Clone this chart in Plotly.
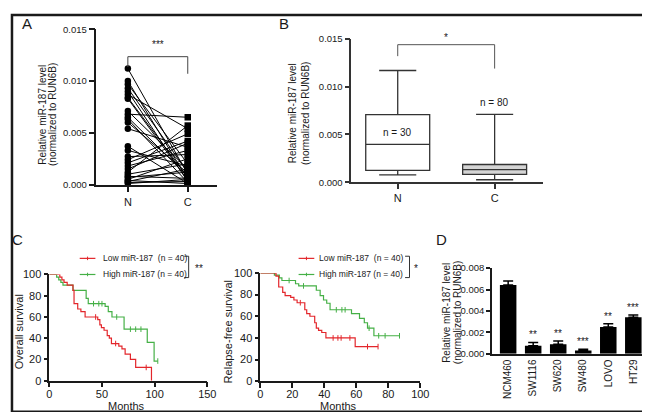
import plotly.graph_objects as go

W, H = 650, 412
FONT = "Liberation Sans, Arial, sans-serif"
INK = "#1a1a1a"
RED = "#e3262b"
GREEN = "#45b046"

# ---------------- Panel A: paired N vs C ----------------
a_groups = ["N", "C"]
a_normal = [0.0112, 0.0100, 0.0097, 0.0093, 0.0090, 0.0087, 0.0084, 0.0083, 0.0071, 0.0068,
            0.0065, 0.0063, 0.0060, 0.0054, 0.0037, 0.0033, 0.0027, 0.0024, 0.0021, 0.0018,
            0.0015, 0.0012, 0.0010, 0.0008, 0.0007, 0.0005, 0.0004, 0.0003, 0.0002, 0.0001]
a_cancer = [0.0010, 0.0005, 0.0020, 0.0012, 0.0003, 0.0054, 0.0007, 0.0004, 0.0015, 0.0065,
            0.0008, 0.0002, 0.0011, 0.0036, 0.0001, 0.0018, 0.0029, 0.0049, 0.0042, 0.0033,
            0.0040, 0.0057, 0.0020, 0.0006, 0.0012, 0.0025, 0.0001, 0.0015, 0.0003, 0.0005]
a_ticks = [0.0, 0.005, 0.010, 0.015]
a_sig = "***"

# ---------------- Panel B: box plots ----------------
b_groups = ["N", "C"]
b_q1 = [0.00125, 0.00083]
b_median = [0.00396, 0.00132]
b_q3 = [0.00707, 0.00186]
b_low = [0.00077, 0.00026]
b_high = [0.01170, 0.00710]
b_n = [30, 80]
b_fill = ["white", "#d4d4d4"]
b_sig = "*"

# ---------------- Panel C: Kaplan-Meier ----------------
os_low_t = [0, 10, 12, 14, 17, 22.5, 23.5, 27, 30, 34, 46, 48, 49.5, 52, 55, 57, 59, 66, 69, 72, 77, 82, 97]
os_low_s = [100, 97.5, 95, 92.5, 90, 85, 72.5, 67.5, 65, 60, 57.5, 52.5, 50, 47.5, 42.5, 40, 35, 32.5, 30, 25, 20, 12.5, 0]
os_low_end = 97
os_low_cens = [44, 63, 92]

os_high_t = [0, 7, 9, 11, 13, 22.5, 35, 37, 53, 56, 59.5, 71, 93, 99.5]
os_high_s = [100, 97.5, 95, 92.5, 90, 85, 77.5, 72.5, 70, 65, 60, 48.5, 36, 18.5]
os_high_end = 103
os_high_cens = [42, 47, 50, 64, 77, 82, 87, 103]

rfs_low_t = [0, 9.8, 11.5, 14, 15.5, 19, 21, 23, 27.8, 29, 31, 34, 35, 36.4, 38.4, 41, 59.3]
rfs_low_s = [100, 97, 87, 82, 79, 77.5, 75, 72.5, 66, 62.5, 60, 54, 49, 47, 45, 40, 32]
rfs_low_end = 73.6
rfs_low_cens = [25, 45.5, 48.5, 50.5, 56, 67, 73.6]

rfs_high_t = [0, 8.8, 11.9, 13.5, 22, 24, 35, 37.4, 39.5, 41.5, 43.6, 57, 62, 65, 67, 71]
rfs_high_s = [100, 98, 95.5, 93, 90, 88, 84, 79, 75, 72, 66, 62.5, 58, 54, 49, 42]
rfs_high_end = 87
rfs_high_cens = [18, 27, 47.5, 51, 53, 68, 74, 78, 87]

legend_labels = ["Low miR-187\u00a0\u00a0(n = 40)", "High miR-187 (n = 40)"]
os_sig, rfs_sig = "**", "*"
os_xticks = [0, 50, 100, 150]
rfs_xticks = [0, 20, 40, 60, 80, 100]
surv_yticks = [0, 20, 40, 60, 80, 100]

# ---------------- Panel D: cell lines ----------------
d_lines = ["NCM460", "SW1116", "SW620", "SW480", "LOVO", "HT29"]
d_values = [0.00643, 0.00075, 0.00090, 0.00030, 0.00250, 0.00341]
d_err = [0.00037, 0.00031, 0.00030, 0.00012, 0.00030, 0.00021]
d_stars = ["", "**", "**", "***", "**", "***"]
d_ticks = [0.0, 0.002, 0.004, 0.006, 0.008]


def dx(a, b):
    return [a / W, b / W]


def dy(top, bottom):
    return [1 - bottom / H, 1 - top / H]


def px(x):
    return x / W


def py(y):
    return 1 - y / H


def surv_at(ts, ss, t):
    v = ss[0]
    for ti, si in zip(ts, ss):
        if ti <= t:
            v = si
    return v


fig = go.Figure()

# ---- A ----
lx, ly = [], []
for n, c in zip(a_normal, a_cancer):
    lx += [0, 1, None]
    ly += [n, c, None]
fig.add_trace(go.Scatter(x=lx, y=ly, mode="lines", line=dict(color="black", width=1),
                         xaxis="x", yaxis="y", cliponaxis=False, showlegend=False))
fig.add_trace(go.Scatter(x=[0] * len(a_normal), y=a_normal, mode="markers",
                         marker=dict(symbol="circle", size=6.5, color="black"),
                         xaxis="x", yaxis="y", cliponaxis=False, showlegend=False))
fig.add_trace(go.Scatter(x=[1] * len(a_cancer), y=a_cancer, mode="markers",
                         marker=dict(symbol="square", size=6.5, color="black"),
                         xaxis="x", yaxis="y", cliponaxis=False, showlegend=False))

# ---- B ----
for i in range(len(b_groups)):
    fig.add_trace(go.Box(x=[i], q1=[b_q1[i]], median=[b_median[i]], q3=[b_q3[i]],
                         lowerfence=[b_low[i]], upperfence=[b_high[i]],
                         width=0.66, whiskerwidth=0.58, fillcolor=b_fill[i],
                         line=dict(color="#333333", width=1.3), boxpoints=False,
                         xaxis="x2", yaxis="y2", showlegend=False, hoverinfo="skip"))


# ---- C ----
def km(ts, ss, end, cens, color, xa, ya):
    fig.add_trace(go.Scatter(x=ts + [end], y=ss + [ss[-1]], mode="lines",
                             line=dict(color=color, width=1.2, shape="hv"),
                             xaxis=xa, yaxis=ya, cliponaxis=False, showlegend=False))
    fig.add_trace(go.Scatter(x=cens, y=[surv_at(ts, ss, c) for c in cens], mode="markers",
                             marker=dict(symbol="line-ns", size=4, line=dict(color=color, width=1)),
                             xaxis=xa, yaxis=ya, cliponaxis=False, showlegend=False))


km(os_high_t, os_high_s, os_high_end, os_high_cens, GREEN, "x3", "y3")
km(os_low_t, os_low_s, os_low_end, os_low_cens, RED, "x3", "y3")
km(rfs_high_t, rfs_high_s, rfs_high_end, rfs_high_cens, GREEN, "x4", "y4")
km(rfs_low_t, rfs_low_s, rfs_low_end, rfs_low_cens, RED, "x4", "y4")

# ---- D ----
d_x = list(range(len(d_lines)))
fig.add_trace(go.Bar(x=d_x, y=d_values, width=0.66, marker=dict(color="black", line=dict(width=0)),
                     error_y=dict(type="data", array=d_err, arrayminus=[0] * len(d_err),
                                  symmetric=False, color="black", thickness=1.5, width=5),
                     xaxis="x5", yaxis="y5", showlegend=False))

tickfont = dict(family=FONT, size=9.5, color=INK)
base = dict(showline=True, linecolor=INK, linewidth=1.5, ticks="outside", tickcolor=INK,
            tickwidth=1.5, showgrid=False, zeroline=False, tickfont=tickfont)

layout = dict(
    width=W, height=H, margin=dict(l=0, r=0, t=0, b=0),
    paper_bgcolor="white", plot_bgcolor="white", boxmode="overlay",
    font=dict(family=FONT, color=INK),
    xaxis=dict(base, domain=dx(87, 210), anchor="y", range=[-0.525, 1.49],
               tickvals=[0, 1], ticktext=a_groups, ticklen=6, tickfont=dict(tickfont, size=11)),
    yaxis=dict(base, domain=dy(15.7, 175.7), anchor="x", range=[0, 0.015],
               tickvals=a_ticks, tickformat=".3f", ticklen=6),
    xaxis2=dict(base, domain=dx(346.7, 541.7), anchor="y2", range=[-0.479, 1.496],
                tickvals=[0, 1], ticktext=b_groups, ticklen=5, linecolor="#333", tickcolor="#333",
                tickfont=dict(tickfont, size=11)),
    yaxis2=dict(base, domain=dy(25.7, 173.3), anchor="x2", range=[0, 0.015],
                tickvals=a_ticks, tickformat=".3f", ticklen=5, linecolor="#333", tickcolor="#333"),
    xaxis3=dict(base, domain=dx(39, 200), anchor="y3", range=[0, 150], tickvals=os_xticks,
                ticklen=5, ticklabelstandoff=-3, tickfont=dict(tickfont, size=11)),
    yaxis3=dict(base, domain=dy(268.3, 377.7), anchor="x3", range=[0, 100], tickvals=surv_yticks,
                ticklen=4, tickfont=dict(tickfont, size=11)),
    xaxis4=dict(base, domain=dx(254, 417), anchor="y4", range=[0, 100], tickvals=rfs_xticks,
                ticklen=5, ticklabelstandoff=-3, tickfont=dict(tickfont, size=11)),
    yaxis4=dict(base, domain=dy(266.7, 378.3), anchor="x4", range=[0, 100], tickvals=surv_yticks,
                ticklen=4, tickfont=dict(tickfont, size=11)),
    xaxis5=dict(base, domain=dx(490, 646), anchor="y5", range=[-0.647, 5.47], tickvals=d_x,
                ticktext=d_lines, tickangle=-90, ticks="", tickfont=dict(tickfont, size=10)),
    yaxis5=dict(base, domain=dy(261.7, 350), anchor="x5", range=[0, 0.008], tickvals=d_ticks,
                tickformat=".3f", ticklen=4),
)
fig.update_layout(**layout)

ann = []
shapes = []


def text(x, y, s, size=10, angle=0, xanchor="center", yanchor="middle", **kw):
    ann.append(dict(x=px(x), y=py(y), xref="paper", yref="paper", text=s, showarrow=False,
                    textangle=angle, xanchor=xanchor, yanchor=yanchor,
                    font=dict(family=FONT, size=size, color=INK), **kw))


def pline(x0, y0, x1, y1, color=INK, width=1):
    shapes.append(dict(type="line", xref="paper", yref="paper", x0=px(x0), y0=py(y0),
                       x1=px(x1), y1=py(y1), line=dict(color=color, width=width)))


# panel letters
text(16, 9.5, "A", 15)
text(278, 9.5, "B", 15)
text(7, 232, "C", 15)
text(438.7, 232.5, "D", 15)

# y titles
text(32, 103.3, "Relative miR-187 level", 10, -90)
text(42.5, 103.3, "(normalized to RUN6B)", 10, -90)
text(287, 102.5, "Relative miR-187 level", 10, -90)
text(300, 102.5, "(normalized to RUN6B)", 10, -90)
text(443.5, 307.5, "Relative miR-187 level", 10, -90)
text(455, 307.5, "(normalized to RUN6B)", 10, -90)
text(9, 327, "Overall survival", 11, -90)
text(222, 327, "Relapse-free survival", 11, -90)
text(118, 404, "Months", 11)
text(334, 404, "Months", 11)

# A bracket
a_top = max(a_normal)
a_br = 0.01235
for xa0, xa1, ya0, ya1 in [(0, 1, a_br, a_br), (0, 0, a_br, a_top + 0.00015), (1, 1, a_br, 0.0107)]:
    shapes.append(dict(type="line", xref="x", yref="y", x0=xa0, x1=xa1, y0=ya0, y1=ya1,
                       line=dict(color="#444", width=1)))
ann.append(dict(x=0.5, y=a_br, xref="x", yref="y", text=a_sig, showarrow=False,
                yanchor="bottom", yshift=5, font=dict(family=FONT, size=10, color=INK)))

# B bracket
b_br = 0.0144
for xa0, xa1, ya0, ya1 in [(0, 1, b_br, b_br), (0, 0, b_br, 0.0132), (1, 1, b_br, 0.0119)]:
    shapes.append(dict(type="line", xref="x2", yref="y2", x0=xa0, x1=xa1, y0=ya0, y1=ya1,
                       line=dict(color="#555", width=1)))
ann.append(dict(x=0.5, y=b_br, xref="x2", yref="y2", text=b_sig, showarrow=False,
                yanchor="bottom", yshift=0, font=dict(family=FONT, size=10, color=INK)))
ann.append(dict(x=0, y=b_median[0], xref="x2", yref="y2", text="n = %d" % b_n[0], showarrow=False,
                yanchor="bottom", yshift=4, font=dict(family=FONT, size=10, color=INK)))
ann.append(dict(x=1, y=b_high[1], xref="x2", yref="y2", text="n = %d" % b_n[1], showarrow=False,
                yanchor="bottom", yshift=4, font=dict(family=FONT, size=10, color=INK)))

# D stars
for i, s in enumerate(d_stars):
    if s:
        ann.append(dict(x=i, y=d_values[i] + d_err[i], xref="x5", yref="y5", text=s,
                        showarrow=False, yanchor="bottom", yshift=0,
                        font=dict(family=FONT, size=10, color=INK)))

# survival legends
for (sx, tx, bx, starx, sig) in [(70, 91.7, 181, 191.7, os_sig), (293, 311.7, 406, 412.7, rfs_sig)]:
    for yy, col, lab in [(251.7, RED, legend_labels[0]), (268.3, GREEN, legend_labels[1])]:
        pline(sx, yy, sx + 16, yy, col, 1.2)
        pline(sx + 8, yy - 1.8, sx + 8, yy + 1.8, col, 1)
        text(tx, yy, lab, 8.5, xanchor="left")
    pline(bx - 4.5, 249.5, bx, 249.5, "#333", 1)
    pline(bx, 249.5, bx, 271.5, "#333", 1)
    pline(bx - 4.5, 271.5, bx, 271.5, "#333", 1)
    text(starx, 262, sig, 10)

# figure border
shapes.append(dict(type="rect", xref="paper", yref="paper", x0=px(1), x1=px(648.5),
                   y0=py(409.8), y1=py(1), line=dict(color=INK, width=2.5)))

fig.update_layout(annotations=ann, shapes=shapes)
fig.write_html("out.html")
